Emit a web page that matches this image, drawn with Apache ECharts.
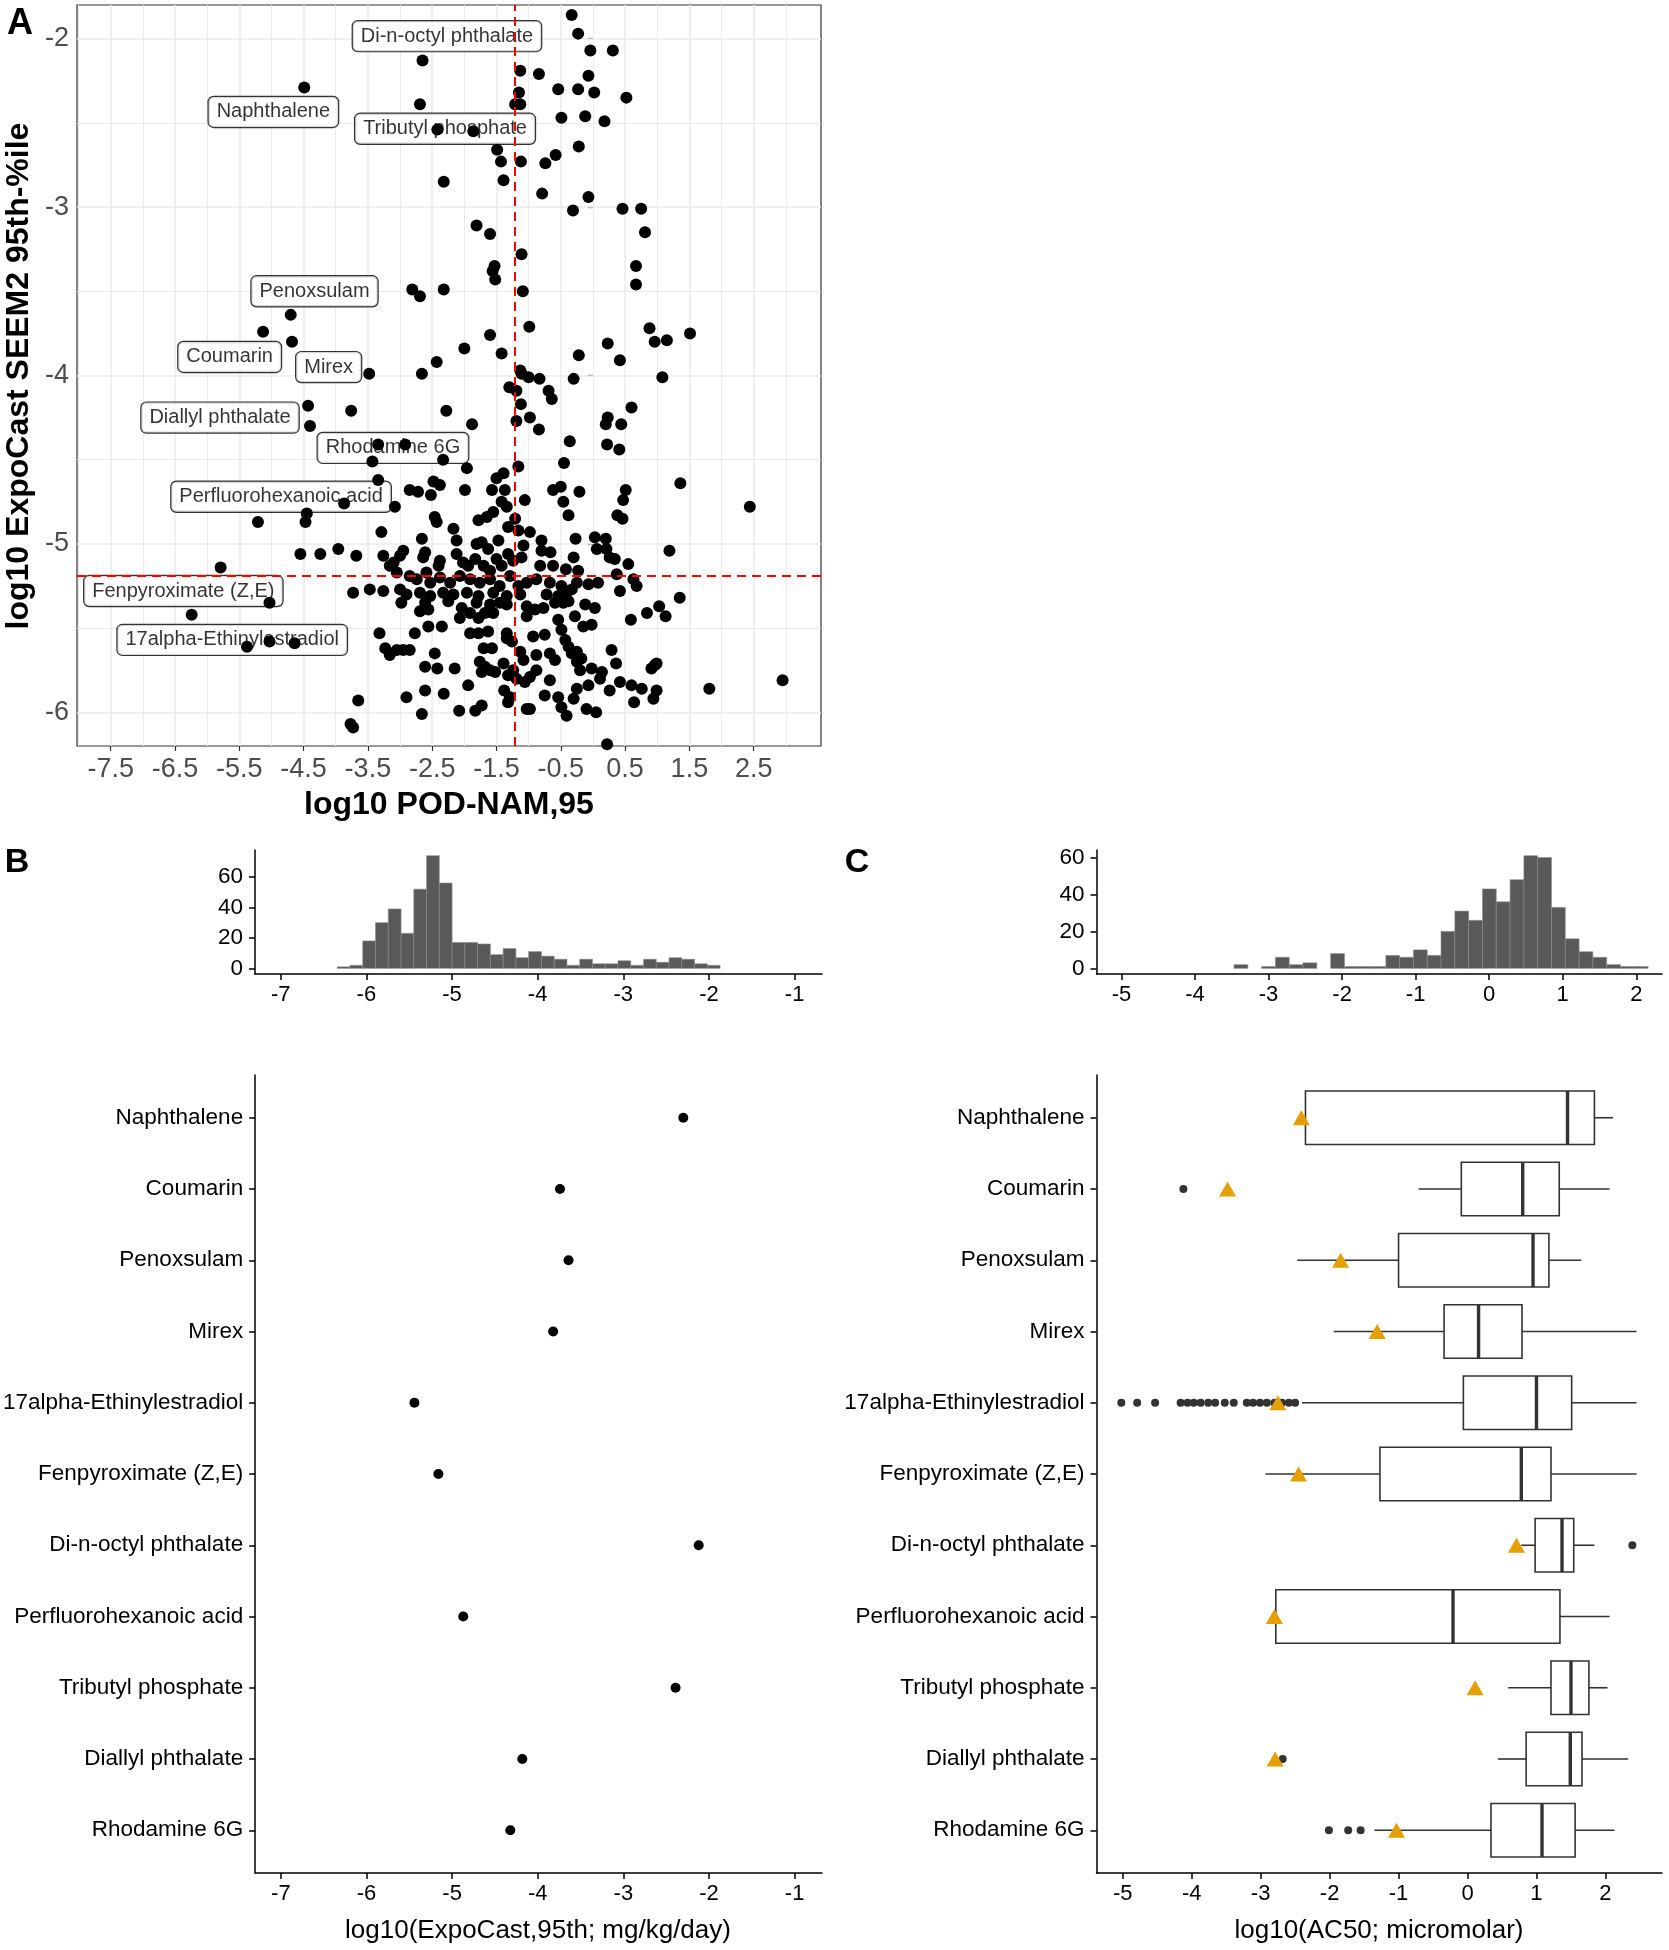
<!DOCTYPE html>
<html><head><meta charset="utf-8">
<script src="https://cdn.jsdelivr.net/npm/echarts@6/dist/echarts.min.js"></script>
<style>html,body{margin:0;padding:0;background:#fff}#c{width:1669px;height:1950px}</style>
</head><body><div id="c"></div>
<script>
const FONT = '"Liberation Sans", Arial, Helvetica, sans-serif';

// ---------- Panel A: log10 POD-NAM,95 (x) vs log10 ExpoCast SEEM2 95th (y)
const aPoints = [
[-0.33,-1.86],[-0.23,-1.97],[-2.65,-2.13],[-0.04,-2.07],[0.31,-2.07],[-4.49,-2.29],[-1.13,-2.19],[-0.84,-2.21],[-0.07,-2.22],[-0.54,-2.30],[-0.23,-2.30],[0.02,-2.32],[0.52,-2.35],[-1.15,-2.32],[-2.69,-2.39],[-1.21,-2.39],[-1.13,-2.39],[-0.49,-2.47],[-0.12,-2.46],[0.18,-2.49],[-2.42,-2.54],[-1.86,-2.55],[-1.49,-2.66],[-0.22,-2.64],[-1.43,-2.73],[-1.12,-2.73],[-0.74,-2.74],[-0.58,-2.69],[-2.32,-2.85],[-1.39,-2.84],[-0.79,-2.92],[-0.07,-2.94],[-0.31,-3.02],[0.46,-3.01],[0.75,-3.01],[0.81,-3.15],[-1.81,-3.11],[-1.60,-3.16],[-1.11,-3.28],[-1.53,-3.35],[-1.56,-3.38],[-1.52,-3.43],[0.67,-3.35],[0.67,-3.46],[-2.81,-3.49],[-2.69,-3.53],[-2.32,-3.49],[-1.09,-3.50],[-4.70,-3.64],[-5.13,-3.74],[-4.68,-3.80],[-0.99,-3.71],[-1.60,-3.76],[0.88,-3.72],[1.51,-3.75],[0.96,-3.80],[1.15,-3.79],[0.23,-3.81],[-2.00,-3.84],[-1.42,-3.87],[-0.22,-3.88],[0.42,-3.91],[-2.43,-3.92],[-2.66,-3.99],[-3.48,-3.99],[-1.13,-3.97],[-1.11,-3.99],[-1.00,-4.01],[-0.83,-4.02],[-0.30,-4.02],[1.08,-4.01],[-1.30,-4.07],[-1.19,-4.09],[-0.69,-4.09],[-0.64,-4.14],[-1.12,-4.17],[0.60,-4.19],[-4.43,-4.18],[-4.40,-4.30],[-3.76,-4.21],[-2.28,-4.21],[-1.88,-4.29],[-1.19,-4.27],[-0.98,-4.25],[-0.84,-4.32],[0.23,-4.25],[0.20,-4.29],[0.44,-4.29],
[-5.21,-4.87],[-4.45,-4.82],[-4.47,-4.87],[-3.87,-4.76],[-5.79,-5.14],[-4.55,-5.06],[-4.24,-5.06],[-3.96,-5.03],[-3.68,-5.07],[-6.24,-5.42],[-5.03,-5.35],[-5.38,-5.61],[-5.03,-5.58],[-4.64,-5.59],[-3.73,-5.29],[-3.65,-5.93],[-3.77,-6.07],[-3.73,-6.09],[2.44,-4.78],[1.81,-5.86],[2.95,-5.81],
[-3.34,-4.41],[-2.92,-4.41],[-3.43,-4.51],[-2.33,-4.50],[-1.96,-4.55],[-1.16,-4.54],[-3.34,-4.62],[-2.48,-4.63],[-2.38,-4.65],[-2.52,-4.71],[-2.85,-4.68],[-2.72,-4.69],[-1.99,-4.68],[-1.57,-4.68],[-1.50,-4.61],[-1.39,-4.58],[-1.37,-4.68],[-3.08,-4.78],[-1.42,-4.75],[-1.34,-4.78],[-1.06,-4.74],[-2.46,-4.84],[-2.43,-4.87],[-1.78,-4.86],[-1.65,-4.84],[-1.55,-4.81],[-1.21,-4.85],[-3.29,-4.93],[-2.17,-4.91],[-1.32,-4.90],[-1.16,-4.92],[-2.66,-4.97],[-2.12,-4.98],[-1.81,-5.00],[-1.73,-4.99],[-1.63,-5.03],[-1.47,-4.98],[-1.08,-5.01],[-3.26,-5.07],[-2.95,-5.04],[-3.00,-5.07],[-3.10,-5.11],[-2.61,-5.05],[-2.64,-5.08],[-2.38,-5.10],[-2.40,-5.13],[-2.12,-5.06],[-2.02,-5.11],[-1.94,-5.13],[-1.83,-5.09],[-1.70,-5.13],[-1.60,-5.16],[-1.50,-5.09],[-1.42,-5.13],[-1.32,-5.06],[-1.24,-5.10],[-1.11,-5.08],[-3.16,-5.13],[-3.05,-5.17],[-2.85,-5.19],[-2.74,-5.21],[-2.59,-5.17],[-2.53,-5.23],[-2.38,-5.20],[-2.22,-5.23],[-2.07,-5.19],[-1.91,-5.21],[-1.76,-5.23],[-1.60,-5.21],[-1.45,-5.25],[-1.29,-5.19],[-1.16,-5.25],[-1.03,-5.23],[-3.47,-5.27],[-3.26,-5.28],[-3.00,-5.27],[-2.90,-5.30],[-2.69,-5.29],[-2.53,-5.31],[-2.33,-5.29],[-2.17,-5.30],[-1.96,-5.29],[-1.78,-5.31],[-1.55,-5.29],[-1.34,-5.31],[-1.13,-5.30],
[-2.98,-5.35],[-2.61,-5.35],[-2.69,-5.40],[-2.56,-5.39],[-2.25,-5.34],[-2.04,-5.38],[-2.07,-5.44],[-1.91,-5.41],[-1.78,-5.44],[-1.68,-5.41],[-1.55,-5.41],[-1.45,-5.35],[-1.34,-5.36],[-1.60,-5.36],[-1.81,-5.35],[-1.03,-5.37],[-1.03,-5.43],[-3.32,-5.53],[-2.77,-5.53],[-2.56,-5.49],[-2.35,-5.49],[-1.91,-5.53],[-1.78,-5.53],[-1.63,-5.52],[-3.23,-5.62],[-3.16,-5.66],[-3.05,-5.63],[-2.95,-5.63],[-2.85,-5.63],[-2.46,-5.65],[-1.70,-5.62],[-1.57,-5.62],[-1.34,-5.56],[-1.26,-5.58],[-1.34,-5.53],[-2.61,-5.73],[-2.42,-5.74],[-2.15,-5.74],[-1.76,-5.70],[-1.68,-5.73],[-1.60,-5.75],[-1.52,-5.76],[-1.73,-5.76],[-1.39,-5.71],[-1.24,-5.75],[-1.19,-5.80],[-1.32,-5.78],[-1.13,-5.64],[-1.08,-5.69],[-2.61,-5.87],[-2.90,-5.91],[-2.32,-5.89],[-1.94,-5.84],[-1.38,-5.87],[-1.29,-5.91],[-1.32,-5.94],[-2.66,-6.01],[-2.08,-5.99],[-1.83,-5.99],[-1.73,-5.96],[-1.06,-5.82],[-1.03,-5.98],
[-0.36,-4.39],[0.22,-4.41],[0.41,-4.44],[-0.45,-4.52],[-0.62,-4.68],[-0.50,-4.66],[-0.21,-4.69],[-0.46,-4.75],[-0.38,-4.83],[0.51,-4.68],[0.47,-4.74],[0.38,-4.83],[0.46,-4.85],[1.36,-4.64],[-0.98,-4.93],[-0.80,-4.98],[-0.66,-5.05],[-0.80,-5.04],[-0.27,-4.97],[0.03,-4.96],[0.20,-4.97],[0.06,-5.03],[0.21,-5.03],[0.26,-5.08],[0.34,-5.09],[-0.30,-5.08],[1.19,-5.04],[0.55,-5.12],[-0.82,-5.13],[-0.62,-5.13],[-0.42,-5.15],[-0.23,-5.16],[-0.88,-5.21],[-0.67,-5.23],[-0.49,-5.25],[-0.33,-5.27],[-0.25,-5.23],[-0.07,-5.24],[0.08,-5.23],[0.37,-5.18],[0.63,-5.21],[0.68,-5.25],[0.42,-5.28],[1.35,-5.32],[-0.72,-5.30],[-0.54,-5.31],[-0.41,-5.29],
[-0.90,-5.39],[-0.77,-5.38],[-0.59,-5.35],[-0.46,-5.35],[-0.38,-5.34],[-0.12,-5.36],[0.03,-5.38],[-0.28,-5.43],[-0.15,-5.49],[-0.02,-5.48],[0.59,-5.45],[0.84,-5.41],[1.03,-5.37],[1.13,-5.43],[-0.54,-5.45],[-0.49,-5.51],[-0.43,-5.57],[-0.38,-5.61],[-0.33,-5.65],[-0.93,-5.55],[-0.75,-5.54],[-0.88,-5.66],[-0.67,-5.65],[-0.59,-5.69],[-0.25,-5.64],[-0.25,-5.70],[-0.18,-5.68],[-0.20,-5.75],[-0.02,-5.74],[0.14,-5.76],[0.11,-5.80],[0.29,-5.63],[0.36,-5.71],[0.96,-5.72],[0.99,-5.71],[0.91,-5.74],[-0.88,-5.75],[-0.98,-5.79],[-0.67,-5.81],[-0.75,-5.90],[-0.07,-5.84],[-0.25,-5.86],[-0.30,-5.92],[-0.54,-5.91],[-0.49,-5.97],[-0.41,-6.02],[0.26,-5.87],[0.42,-5.82],[0.60,-5.84],[0.76,-5.86],[0.64,-5.94],[0.99,-5.87],[0.94,-5.92],[-0.98,-5.98],[-0.10,-5.98],[0.05,-6.00],[0.22,-6.19]
];
const aXTicks = [-7.5,-6.5,-5.5,-4.5,-3.5,-2.5,-1.5,-0.5,0.5,1.5,2.5];
const aYTicks = [-6,-5,-4,-3,-2];
const aXMinor = [-8,-7,-6,-5,-4,-3,-2,-1,0,1,2,3];
const aYMinor = [-5.5,-4.5,-3.5,-2.5];
const aRefX = -1.22;
const aRefY = -5.19;
const labelNames = ['Di-n-octyl phthalate','Naphthalene','Tributyl phosphate','Penoxsulam','Coumarin','Mirex','Diallyl phthalate','Rhodamine 6G','Perfluorohexanoic acid','Fenpyroximate (Z,E)','17alpha-Ethinylestradiol'];
const labelX = [-2.27,-4.97,-2.30,-4.33,-5.65,-4.11,-5.80,-3.11,-4.85,-6.37,-5.61];
const labelY = [-1.985,-2.435,-2.535,-3.50,-3.89,-3.95,-4.25,-4.43,-4.72,-5.28,-5.57];

// ---------- Panel B
const chemicals = ['Naphthalene','Coumarin','Penoxsulam','Mirex','17alpha-Ethinylestradiol','Fenpyroximate (Z,E)','Di-n-octyl phthalate','Perfluorohexanoic acid','Tributyl phosphate','Diallyl phthalate','Rhodamine 6G'];
const expoCast95 = [-2.30,-3.74,-3.64,-3.82,-5.44,-5.16,-2.12,-4.87,-2.39,-4.18,-4.32];
const bTicks = [-7,-6,-5,-4,-3,-2,-1];
const histYTicks = [0,20,40,60];
const bHistEdges = [-6.340,-6.191,-6.042,-5.893,-5.744,-5.595,-5.446,-5.297,-5.148,-4.999,-4.850,-4.701,-4.552,-4.403,-4.254,-4.105,-3.956,-3.807,-3.658,-3.509,-3.360,-3.211,-3.062,-2.913,-2.764,-2.615,-2.466,-2.317,-2.168,-2.019,-1.870];
const bHistCounts = [1,2,18,30,39,23,52,74,56,17,17,16,9,13,7,11,8,6,2,6,3,3,5,2,6,4,7,6,3,2];

// ---------- Panel C
const cTicks = [-5,-4,-3,-2,-1,0,1,2];
const cHistEdges = [-3.470,-3.282,-3.095,-2.907,-2.719,-2.532,-2.344,-2.156,-1.968,-1.781,-1.593,-1.405,-1.218,-1.030,-0.842,-0.655,-0.467,-0.279,-0.091,0.096,0.284,0.472,0.659,0.847,1.035,1.223,1.410,1.598,1.786,1.973,2.161];
const cHistCounts = [2,0,1,6,2,3,0,8,1,1,1,7,6,10,7,20,31,26,43,36,48,61,60,33,16,9,6,2,1,1];
const acLow  = [-2.35,-0.71,-2.47,-1.94,-2.40,-2.93,0.78,-2.78,0.59,0.44,-1.35];
const acQ1   = [-2.35,-0.09,-1.00,-0.34,-0.06,-1.27,0.98,-2.78,1.21,0.85,0.34];
const acMed  = [1.45,0.80,0.95,0.16,1.00,0.78,1.37,-0.21,1.50,1.49,1.08];
const acQ3   = [1.84,1.33,1.18,0.79,1.51,1.21,1.54,1.34,1.76,1.66,1.56];
const acHigh = [2.11,2.06,1.65,2.45,2.45,2.45,1.84,2.06,2.03,2.33,2.13];
const acOutliers = [[-4.12,1],
 [-5.02,4],[-4.79,4],[-4.53,4],[-4.16,4],[-4.06,4],[-3.97,4],[-3.87,4],[-3.76,4],[-3.66,4],[-3.52,4],[-3.39,4],[-3.20,4],[-3.11,4],[-3.01,4],[-2.91,4],[-2.80,4],[-2.69,4],[-2.59,4],[-2.50,4],
 [2.39,6],[-2.68,9],[-2.01,10],[-1.73,10],[-1.55,10]];
const podNam95 = [-2.41,-3.48,-1.84,-1.31,-2.75,-2.45,0.71,-2.80,0.11,-2.79,-1.03];

// ---------- build
const rowIdx = chemicals.map((_, i) => i);
const rowName = v => chemicals[Math.round(v)] || '';
const chart = echarts.init(document.getElementById('c'), null, {renderer: 'canvas'});

function classicX(gridIndex, min, max, ticks) {
  return {type:'value', gridIndex, min, max,
    axisLine:{show:true, onZero:false, lineStyle:{color:'#000', width:1.5}},
    axisTick:{show:true, length:6, customValues: ticks, lineStyle:{color:'#000', width:1.5}},
    axisLabel:{customValues: ticks, fontSize:22, color:'#000', fontFamily:FONT, margin:10},
    splitLine:{show:false}};
}
function classicY(gridIndex, min, max, ticks, extra, fmt) {
  const lab = {customValues: ticks, fontSize:22.5, color:'#000', fontFamily:FONT, margin:12};
  if (fmt) lab.formatter = fmt;
  return Object.assign({type:'value', gridIndex, min, max,
    axisLine:{show:true, onZero:false, lineStyle:{color:'#000', width:1.5}},
    axisTick:{show:true, length:6, customValues: ticks, lineStyle:{color:'#000', width:1.5}},
    axisLabel:lab,
    splitLine:{show:false}}, extra || {});
}
function histItem(edges, counts) {
  return counts.map((c, i) => [edges[i], edges[i+1], c]).filter(d => d[2] > 0);
}
function histRender(params, api) {
  const p0 = api.coord([api.value(0), api.value(2)]);
  const p1 = api.coord([api.value(1), 0]);
  return {type:'rect', shape:{x:p0[0], y:p0[1], width:p1[0]-p0[0], height:p1[1]-p0[1]},
    style:{fill:'#595959', stroke:'#8c8c8c', lineWidth:0.6}};
}

const gridMajor = [];
aXTicks.forEach(v => gridMajor.push({xAxis:v, lineStyle:{color:'#EBEBEB', width:1.6, type:'solid'}}));
aXMinor.forEach(v => gridMajor.push({xAxis:v, lineStyle:{color:'#EBEBEB', width:1.0, type:'solid'}}));
aYTicks.forEach(v => gridMajor.push({yAxis:v, lineStyle:{color:'#EBEBEB', width:1.6, type:'solid'}}));
aYMinor.forEach(v => gridMajor.push({yAxis:v, lineStyle:{color:'#EBEBEB', width:1.0, type:'solid'}}));

const option = {
  animation:false,
  backgroundColor:'#fff',
  textStyle:{fontFamily:FONT},
  grid:[
    {left:77, top:5, width:744, height:741, show:true, borderColor:'#333', borderWidth:1.2, backgroundColor:'#fff'},
    {left:255, top:850, width:567, height:124},
    {left:255, top:1075, width:567, height:798},
    {left:1096.5, top:850, width:565.5, height:124},
    {left:1096.5, top:1075, width:565.5, height:798}
  ],
  xAxis:[
    {type:'value', gridIndex:0, min:-8.024, max:3.547,
      axisLine:{show:false},
      axisTick:{show:true, length:5, customValues:aXTicks, lineStyle:{color:'#333', width:1.2}},
      axisLabel:{customValues:aXTicks, fontSize:27, color:'#4D4D4D', fontFamily:FONT, margin:10},
      splitLine:{show:false}},
    classicX(1, -7.30, -0.68, bTicks),
    classicX(2, -7.30, -0.68, bTicks),
    classicX(3, -5.34, 2.35, cTicks),
    classicX(4, -5.38, 2.82, cTicks)
  ],
  yAxis:[
    {type:'value', gridIndex:0, min:-6.2, max:-1.8,
      axisLine:{show:false},
      axisTick:{show:true, length:5, customValues:aYTicks, lineStyle:{color:'#333', width:1.2}},
      axisLabel:{customValues:aYTicks, fontSize:27, color:'#4D4D4D', fontFamily:FONT, margin:8},
      splitLine:{show:false}},
    classicY(1, -3.7, 77.7, histYTicks),
    classicY(2, -0.6, 10.6, rowIdx, {inverse:true}, rowName),
    classicY(3, -3.05, 64.05, histYTicks),
    classicY(4, -0.6, 10.6, rowIdx, {inverse:true}, rowName)
  ],
  series:[
    {type:'scatter', xAxisIndex:0, yAxisIndex:0, data:[], z:1, silent:true,
      markLine:{z:1, silent:true, symbol:['none','none'], animation:false, label:{show:false}, data:gridMajor}},
    {type:'scatter', xAxisIndex:0, yAxisIndex:0, z:2, silent:true, symbolSize:1,
      itemStyle:{color:'rgba(0,0,0,0)'},
      data: labelNames.map((n, i) => ({name:n, value:[labelX[i], labelY[i]]})),
      label:{show:true, position:'inside', formatter:'{b}', fontSize:20, lineHeight:20, color:'#000', fontFamily:FONT,
        textBorderWidth:0, textBorderColor:'transparent', textShadowBlur:0,
        backgroundColor:'#fff', borderColor:'#000', borderWidth:1.2, borderRadius:5, padding:[5,8,5,8]}},
    {type:'scatter', xAxisIndex:0, yAxisIndex:0, z:3, symbolSize:12, itemStyle:{color:'#000', opacity:1}, data:aPoints},
    {type:'scatter', xAxisIndex:0, yAxisIndex:0, data:[], z:6, silent:true,
      markLine:{z:6, silent:true, symbol:['none','none'], animation:false, label:{show:false},
        lineStyle:{color:'#FF0000', width:2, type:[9,6]},
        data:[{xAxis:aRefX},{yAxis:aRefY}]}},
    {type:'custom', xAxisIndex:1, yAxisIndex:1, renderItem:histRender, encode:{x:[0,1], y:2},
      data: histItem(bHistEdges, bHistCounts)},
    {type:'scatter', xAxisIndex:2, yAxisIndex:2, symbolSize:10, itemStyle:{color:'#000', opacity:1},
      data: expoCast95.map((v, i) => [v, i])},
    {type:'custom', xAxisIndex:3, yAxisIndex:3, renderItem:histRender, encode:{x:[0,1], y:2},
      data: histItem(cHistEdges, cHistCounts)},
    {type:'custom', xAxisIndex:4, yAxisIndex:4, z:2, encode:{x:[1,2,3,4,5], y:0},
      data: rowIdx.map(i => [i, acLow[i], acQ1[i], acMed[i], acQ3[i], acHigh[i]]),
      renderItem: function(params, api) {
        const row = api.value(0);
        const lo = api.coord([api.value(1), row]);
        const q1 = api.coord([api.value(2), row]);
        const md = api.coord([api.value(3), row]);
        const q3 = api.coord([api.value(4), row]);
        const hi = api.coord([api.value(5), row]);
        const h = Math.abs(api.size([0, 0.75])[1]);
        const y = q1[1];
        const st = {stroke:'#333', lineWidth:1.6};
        return {type:'group', children:[
          {type:'line', shape:{x1:lo[0], y1:y, x2:q1[0], y2:y}, style:st},
          {type:'line', shape:{x1:q3[0], y1:y, x2:hi[0], y2:y}, style:st},
          {type:'rect', shape:{x:q1[0], y:y-h/2, width:q3[0]-q1[0], height:h}, style:{fill:'#fff', stroke:'#333', lineWidth:1.6}},
          {type:'line', shape:{x1:md[0], y1:y-h/2, x2:md[0], y2:y+h/2}, style:{stroke:'#333', lineWidth:3.4}}
        ]};
      }},
    {type:'scatter', xAxisIndex:4, yAxisIndex:4, z:3, symbolSize:8, itemStyle:{color:'#333', opacity:1}, data:acOutliers},
    {type:'scatter', xAxisIndex:4, yAxisIndex:4, z:4, symbol:'triangle', symbolSize:[17,15], itemStyle:{color:'#E69F00', opacity:1},
      data: podNam95.map((v, i) => [v, i])}
  ],
  graphic:[
    {type:'text', x:20, y:24, style:{text:'A', font:'bold 36px ' + FONT, fill:'#000', align:'center', verticalAlign:'middle', textAlign:'center', textVerticalAlign:'middle'}},
    {type:'text', x:17, y:863, style:{text:'B', font:'bold 34px ' + FONT, fill:'#000', align:'center', verticalAlign:'middle', textAlign:'center', textVerticalAlign:'middle'}},
    {type:'text', x:857, y:863, style:{text:'C', font:'bold 34px ' + FONT, fill:'#000', align:'center', verticalAlign:'middle', textAlign:'center', textVerticalAlign:'middle'}},
    {type:'text', x:19, y:376, rotation:Math.PI/2, style:{text:'log10 ExpoCast SEEM2 95th-%ile', font:'bold 32px ' + FONT, fill:'#000', align:'center', verticalAlign:'middle', textAlign:'center', textVerticalAlign:'middle'}},
    {type:'text', x:449, y:805, style:{text:'log10 POD-NAM,95', font:'bold 32px ' + FONT, fill:'#000', align:'center', verticalAlign:'middle', textAlign:'center', textVerticalAlign:'middle'}},
    {type:'text', x:538, y:1931, style:{text:'log10(ExpoCast,95th; mg/kg/day)', font:'26px ' + FONT, fill:'#000', align:'center', verticalAlign:'middle', textAlign:'center', textVerticalAlign:'middle'}},
    {type:'text', x:1379, y:1931, style:{text:'log10(AC50; micromolar)', font:'26px ' + FONT, fill:'#000', align:'center', verticalAlign:'middle', textAlign:'center', textVerticalAlign:'middle'}}
  ]
};
chart.setOption(option);
</script>
</body></html>
